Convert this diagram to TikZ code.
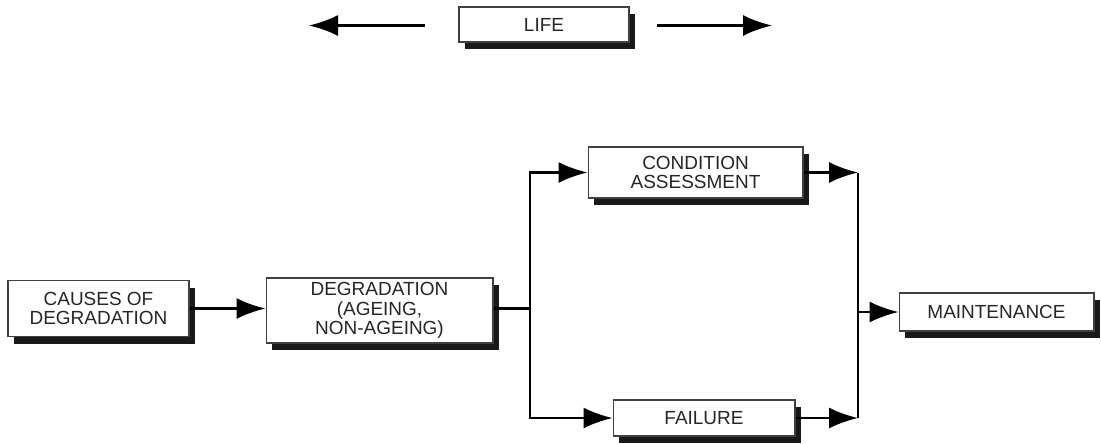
\documentclass[tikz,border=0pt]{standalone}
\usepackage{fontspec}
\setmainfont{Liberation Sans}
\usetikzlibrary{arrows.meta,shadows}

\begin{document}
\begin{tikzpicture}
[x=0.02cm,y=-0.02cm,
 blocknode/.style={rectangle,draw=black!75,line width=0.6pt,fill=white,
   text=black!85,align=center,inner sep=0pt,
   font=\fontsize{10.8}{11}\selectfont,
   drop shadow={shadow xshift=0.12cm,shadow yshift=-0.14cm,fill=black!90,opacity=1}},
 arr/.style={line width=1.4pt,-{Latex[length=0.58cm,width=0.42cm]}},
 conn/.style={line width=1.4pt}]

\useasboundingbox (0,0) rectangle (1101,443);

\node (life) at (544,24.5) [blocknode,minimum width=3.4cm,minimum height=0.7cm] {LIFE};

\node (causes) at (98.5,308.5) [blocknode,minimum width=3.62cm,minimum height=1.12cm] {CAUSES OF\\DEGRADATION};
\node (degradation) at (379.5,310.5) [blocknode,minimum width=4.54cm,minimum height=1.3cm] {DEGRADATION\\(AGEING,\\NON-AGEING)};
\node (condition) at (695.5,172.5) [blocknode,minimum width=4.3cm,minimum height=1.02cm] {CONDITION\\ASSESSMENT};
\node (failure) at (704,418) [blocknode,minimum width=3.64cm,minimum height=0.72cm] {FAILURE};
\node (maintenance) at (996.5,312) [blocknode,minimum width=3.9cm,minimum height=0.76cm] {MAINTENANCE};

\coordinate (lifeLa) at (425,25.5);
\coordinate (lifeLb) at (309,25.5);
\coordinate (lifeRa) at (657,25.5);
\coordinate (lifeRb) at (772,25.5);
\coordinate (split) at (530,308.5);
\coordinate (merge) at (858,312);

\draw[arr] (lifeLa) -- (lifeLb);
\draw[arr] (lifeRa) -- (lifeRb);

\draw[arr] (causes) -- (causes -| degradation.west);
\draw[conn] (degradation.east |- split) -- (split);
\draw[arr] (split) |- (condition);
\draw[arr] (split) |- (failure);

\draw[arr] (condition) -- (condition -| merge);
\draw[arr] (failure) -- (failure -| merge);
\draw[conn] (condition -| merge) -- (failure -| merge);
\draw[arr] (merge) -- (maintenance);

\end{tikzpicture}
\end{document}
